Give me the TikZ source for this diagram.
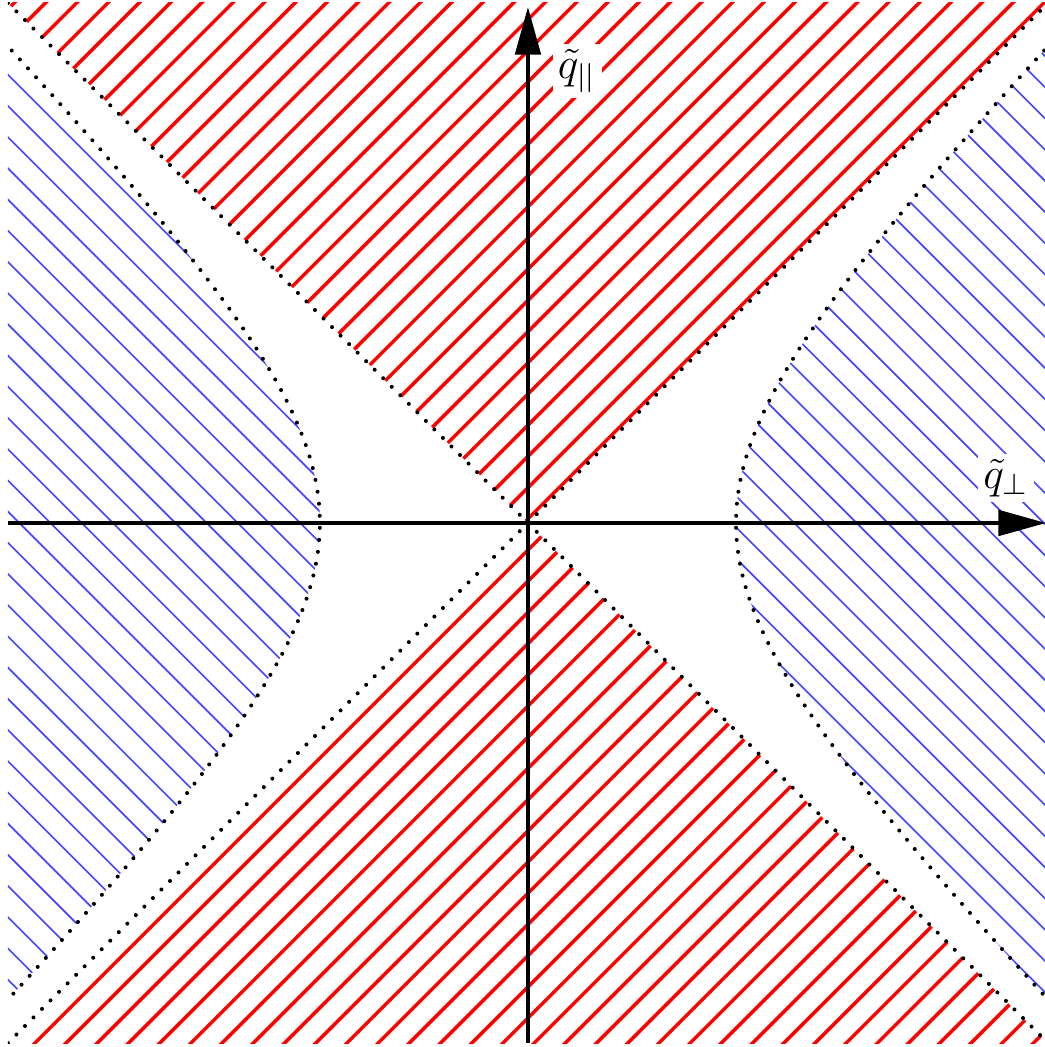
\documentclass[tikz,border=0pt]{standalone}
\usepackage{amsmath,amssymb}
\usepackage{xcolor}
\usepackage{tikz}
\usetikzlibrary{arrows.meta}
\definecolor{conered}{RGB}{255, 0, 0}
\definecolor{hyperblue}{RGB}{70, 70, 255}

\begin{document}
\begin{tikzpicture}[x=2cm, y=2cm,
    redhatch/.style={conered, line width=0.95pt},
    bluehatch/.style={hyperblue, line width=0.45pt},
    bound/.style={black, line width=1.1pt, line cap=round, dash pattern=on 0pt off 3.3pt},
    axis/.style={black, line width=0.9pt, -{Triangle[length=13pt, width=7pt]}},
    lbl/.style={fill=white, inner sep=1.5pt, font=\fontsize{11.5}{13}\selectfont}]
\fill[white] (-2.538,-2.519) rectangle (2.481,2.514);
\useasboundingbox (-2.538,-2.519) rectangle (2.481,2.514);

% Light cone |y| > |x|
\begin{scope}
    \clip (-2.5,-2.5) rectangle (2.5,2.5);
    \clip (0,0) -- (-2.6,2.6) -- (2.6,2.6) -- (0,0) -- (2.6,-2.6) -- (-2.6,-2.6) -- cycle;
    \foreach \k in {-35,...,35} {
        \pgfmathsetmacro{\c}{0.02+0.15*\k}
        \draw[redhatch] (-2.6,-2.6+\c) -- (2.6,2.6+\c);
    }
\end{scope}

% Left branch
\begin{scope}
    \clip (-2.5,-2.5) rectangle (2.5,2.5);
    \clip plot[domain=-1.75:1.75, samples=80, variable=\t] ({-cosh(\t)},{sinh(\t)}) -- (-3,2.8) -- (-3,-2.8) -- cycle;
    \foreach \k in {-35,...,35} {
        \pgfmathsetmacro{\d}{-0.045+0.15*\k}
        \draw[bluehatch] (-2.6,2.6+\d) -- (2.6,-2.6+\d);
    }
\end{scope}

% Right branch
\begin{scope}
    \clip (-2.5,-2.5) rectangle (2.5,2.5);
    \clip plot[domain=-1.75:1.75, samples=80, variable=\t] ({cosh(\t)},{sinh(\t)}) -- (3,2.8) -- (3,-2.8) -- cycle;
    \foreach \k in {-35,...,35} {
        \pgfmathsetmacro{\d}{0.08+0.15*\k}
        \draw[bluehatch] (-2.6,2.6+\d) -- (2.6,-2.6+\d);
    }
\end{scope}

% Boundaries
\begin{scope}
    \clip (-2.5,-2.5) rectangle (2.5,2.5);
    \draw[bound] (-2.5,-2.5) -- (2.5,2.5);
    \draw[bound] (-2.5,2.5) -- (2.5,-2.5);
    \draw[bound] plot[domain=-1.7:1.7, samples=90, variable=\t] ({-cosh(\t)},{sinh(\t)});
    \draw[bound] plot[domain=-1.7:1.7, samples=90, variable=\t] ({cosh(\t)},{sinh(\t)});
\end{scope}

% Axes
\draw[axis] (-2.5,0) -- (2.49,0);
\draw[axis] (0,-2.5) -- (0,2.48);
\node[lbl] (qpar) at (0.236,2.173) {$\tilde{q}_{||}$};
\node[lbl] (qperp) at (2.298,0.216) {$\tilde{q}_\perp$};
\end{tikzpicture}
\end{document}
